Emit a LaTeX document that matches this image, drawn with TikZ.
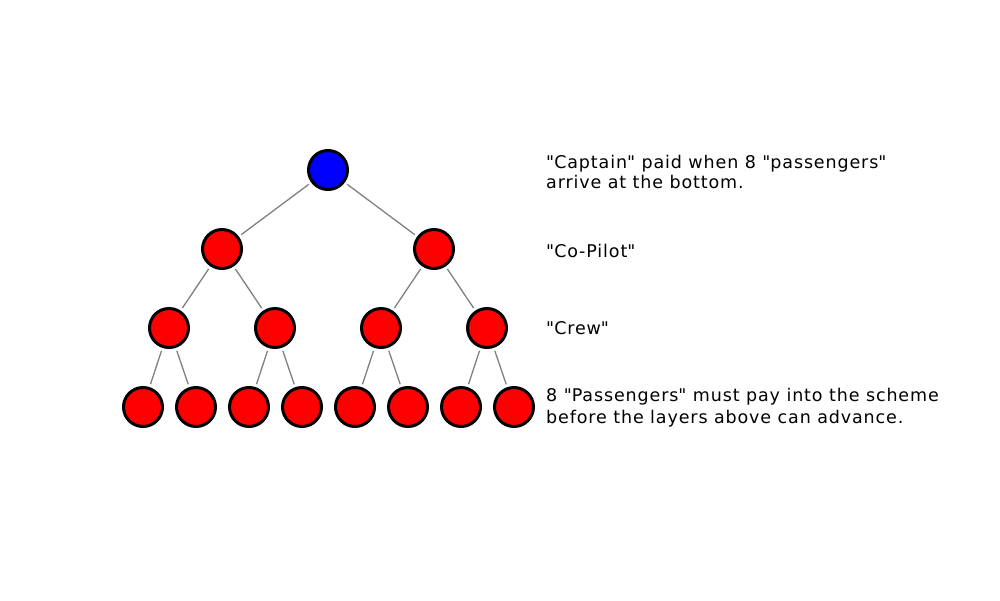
\documentclass[tikz,border=0pt]{standalone}
\usepackage{fontspec}
\newfontfamily\lblfont{DejaVu Sans}[LetterSpace=5]
\begin{document}
\begin{tikzpicture}[x=1pt,y=-1pt,
  person/.style={circle,draw=black,line width=3pt,minimum size=39pt,inner sep=0pt},
  red person/.style={person,fill=red},
  blue person/.style={person,fill=blue},
  link/.style={draw=gray,line width=1.3pt,shorten <=3pt,shorten >=3pt},
  label/.style={anchor=base west,inner sep=0pt,align=left,font=\lblfont\fontsize{17.5pt}{20pt}\selectfont}]
\useasboundingbox[fill=white] (0,0) rectangle (1000,600);
\node[blue person] (cap) at (328,170) {};
\node[red person] (p1) at (222,249) {};
\node[red person] (p2) at (434,249) {};
\node[red person] (c1) at (169,328) {};
\node[red person] (c2) at (275,328) {};
\node[red person] (c3) at (381,328) {};
\node[red person] (c4) at (487,328) {};
\node[red person] (s1) at (143,407) {};
\node[red person] (s2) at (196,407) {};
\node[red person] (s3) at (249,407) {};
\node[red person] (s4) at (302,407) {};
\node[red person] (s5) at (355,407) {};
\node[red person] (s6) at (408,407) {};
\node[red person] (s7) at (461,407) {};
\node[red person] (s8) at (514,407) {};
\draw[link] (cap) -- (p1);
\draw[link] (cap) -- (p2);
\draw[link] (p1) -- (c1);
\draw[link] (p1) -- (c2);
\draw[link] (p2) -- (c3);
\draw[link] (p2) -- (c4);
\draw[link] (c1) -- (s1);
\draw[link] (c1) -- (s2);
\draw[link] (c2) -- (s3);
\draw[link] (c2) -- (s4);
\draw[link] (c3) -- (s5);
\draw[link] (c3) -- (s6);
\draw[link] (c4) -- (s7);
\draw[link] (c4) -- (s8);
\begin{scope}
\clip (530,0) rectangle (937,600);
\node[label] (t1) at (546,188) {\textquotedbl Captain\textquotedbl{} paid when 8 \textquotedbl passengers\textquotedbl\\arrive at the bottom.};
\node[label] (t2) at (546,257) {\textquotedbl Co-Pilot\textquotedbl};
\node[label] (t3) at (546,334) {\textquotedbl Crew\textquotedbl};
\node[label,font=\lblfont\fontsize{17.5pt}{22pt}\selectfont] (t4) at (546,423) {8 \textquotedbl Passengers\textquotedbl{} must pay into the scheme\\before the layers above can advance.};
\end{scope}
\end{tikzpicture}
\end{document}
